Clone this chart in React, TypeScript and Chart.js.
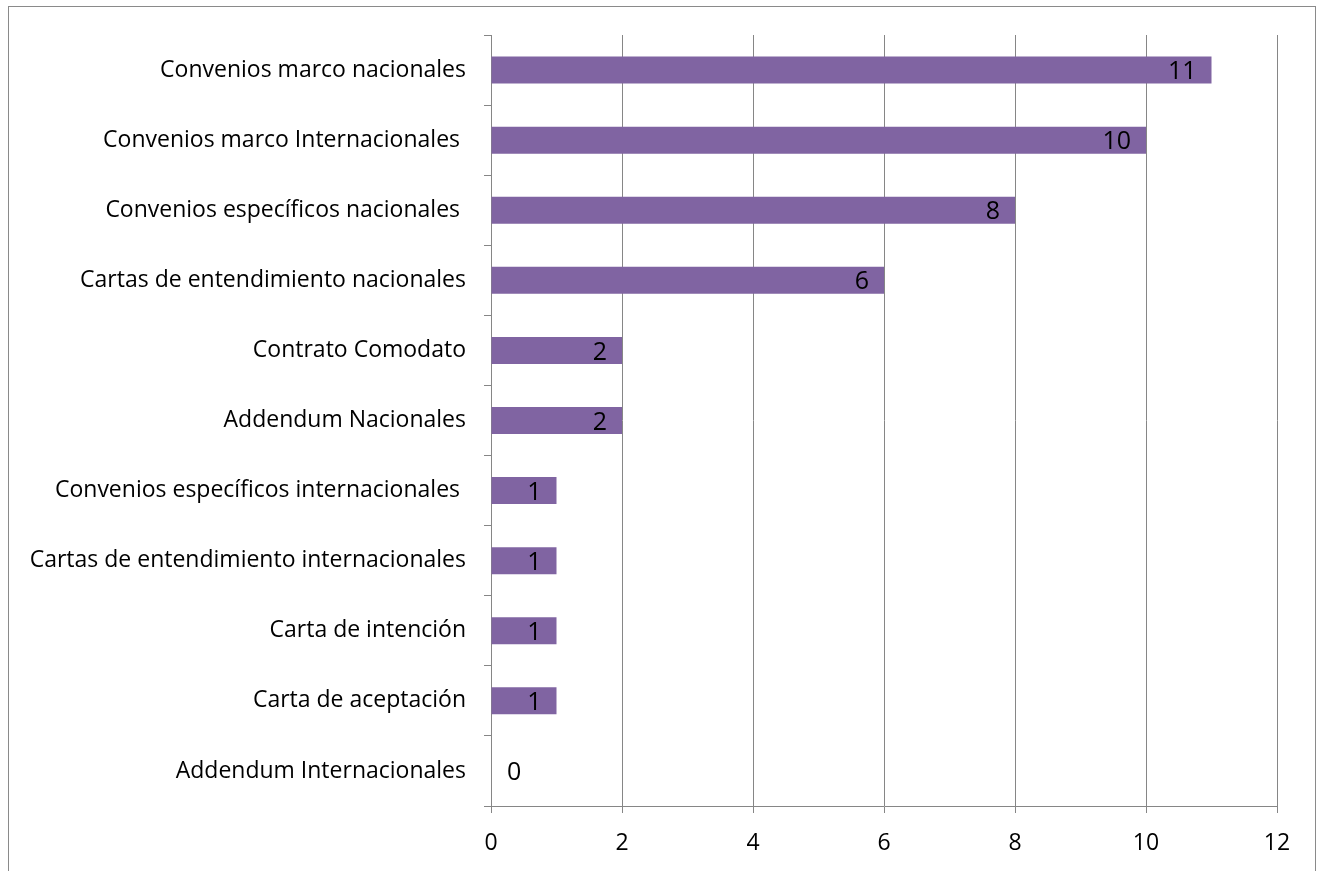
import React, { useEffect, useRef } from "react";
import { Chart, registerables } from "chart.js";

Chart.register(...registerables);

const categories: string[] = [
  "Convenios marco nacionales",
  "Convenios marco Internacionales ",
  "Convenios específicos nacionales ",
  "Cartas de entendimiento nacionales",
  "Contrato Comodato",
  "Addendum Nacionales",
  "Convenios específicos internacionales ",
  "Cartas de entendimiento internacionales",
  "Carta de intención",
  "Carta de aceptación",
  "Addendum Internacionales",
];

const values: number[] = [11, 10, 8, 6, 2, 2, 1, 1, 1, 1, 0];

const xTicks: number[] = [0, 2, 4, 6, 8, 10, 12];

const FONT = "'Open Sans', sans-serif";
const GRID = "#868686";
const BAR = "#8064A2";

const framePlugin = {
  id: "frame",
  beforeDraw(chart: any) {
    const ctx = chart.ctx;
    ctx.save();
    ctx.fillStyle = "#ffffff";
    ctx.fillRect(0, 0, chart.width, chart.height);
    ctx.strokeStyle = "#8a8a8a";
    ctx.lineWidth = 1;
    ctx.strokeRect(8.5, 6.5, 1307, 900);
    ctx.restore();
  },
};

const labelPlugin = {
  id: "valueLabels",
  afterDatasetsDraw(chart: any) {
    const ctx = chart.ctx;
    const meta = chart.getDatasetMeta(0);
    const xScale = chart.scales.x;
    ctx.save();
    ctx.font = `25px ${FONT}`;
    ctx.fillStyle = "#000000";
    ctx.textBaseline = "middle";
    meta.data.forEach((bar: any, i: number) => {
      const v = values[i];
      if (v > 0) {
        ctx.textAlign = "right";
        ctx.fillText(String(v), bar.x - 15, bar.y + 2);
      } else {
        ctx.textAlign = "left";
        ctx.fillText(String(v), xScale.getPixelForValue(0) + 16, bar.y + 2);
      }
    });
    ctx.restore();
  },
};

export default function App() {
  const ref = useRef<HTMLCanvasElement | null>(null);

  useEffect(() => {
    if (!ref.current) return;
    const chart = new Chart(ref.current, {
      type: "bar",
      data: {
        labels: categories,
        datasets: [
          {
            data: values,
            backgroundColor: BAR,
            borderWidth: 0,
            barPercentage: 0.77,
            categoryPercentage: 0.5,
          },
        ],
      },
      options: {
        indexAxis: "y",
        animation: false,
        responsive: false,
        maintainAspectRatio: false,
        layout: { padding: { left: 0, right: 47, top: 35, bottom: 0 } },
        plugins: {
          legend: { display: false },
          tooltip: { enabled: false },
        },
        scales: {
          x: {
            min: 0,
            max: 12,
            afterBuildTicks(scale: any) {
              scale.ticks = xTicks.map((v) => ({ value: v }));
            },
            afterFit(scale: any) {
              scale.height = 65;
            },
            grid: {
              color: GRID,
              lineWidth: 1,
              tickLength: 7,
              drawOnChartArea: true,
              drawTicks: true,
            },
            border: { display: true, color: GRID, width: 1 },
            ticks: {
              color: "#000000",
              font: { family: FONT, size: 23 },
              padding: 17,
              maxRotation: 0,
            },
          },
          y: {
            afterFit(scale: any) {
              scale.width = 491;
            },
            grid: {
              color: GRID,
              lineWidth: 1,
              tickLength: 7,
              drawOnChartArea: false,
              drawTicks: true,
              offset: true,
            },
            border: { display: true, color: GRID, width: 1 },
            ticks: {
              color: "#000000",
              font: { family: FONT, size: 23 },
              padding: 18,
              autoSkip: false,
            },
          },
        },
      },
      plugins: [framePlugin, labelPlugin],
    });
    return () => chart.destroy();
  }, []);

  return (
    <div style={{ position: "fixed", left: 0, top: 0, width: 1324, height: 871 }}>
      <canvas ref={ref} width={1324} height={871} style={{ display: "block" }} />
    </div>
  );
}
